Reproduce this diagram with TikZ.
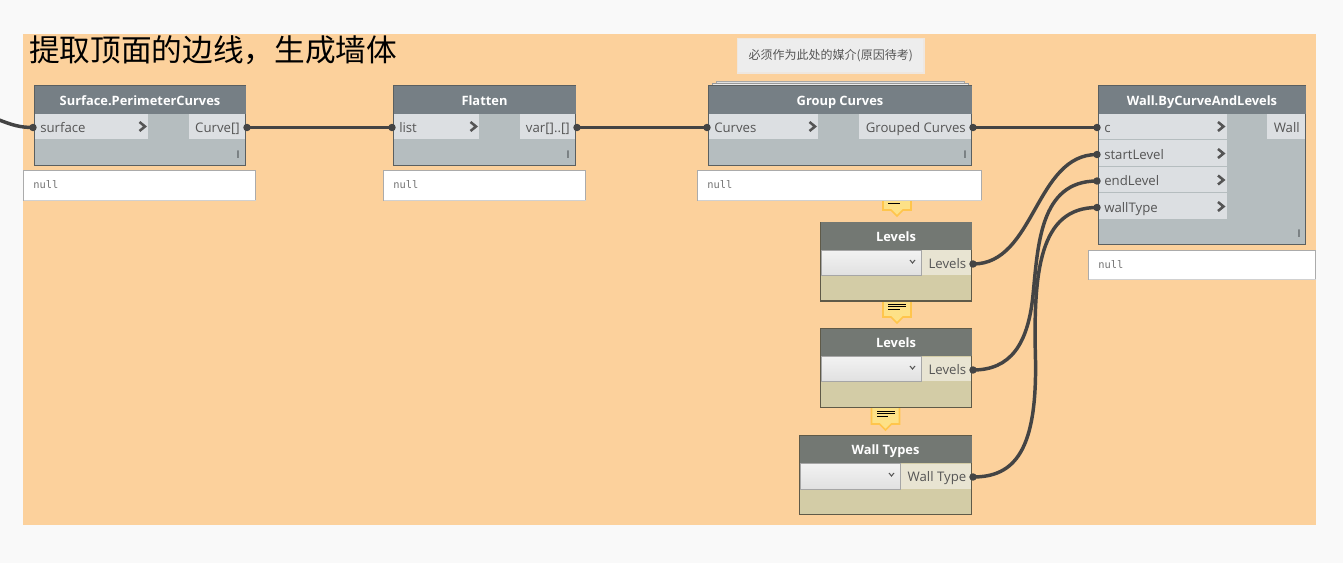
\documentclass[tikz,border=0pt]{standalone}
\usepackage{fontspec}
\setmainfont{Open Sans}
\newfontfamily\cjk{Noto Sans CJK SC}
\newfontfamily\monof{DejaVu Sans Mono}
\definecolor{pagec}{HTML}{F9F9F9}
\definecolor{bgo}{HTML}{FCD19C}
\definecolor{hblue}{HTML}{767F85}
\definecolor{hgreen}{HTML}{737873}
\definecolor{bodyb}{HTML}{B5BDBF}
\definecolor{bodyg}{HTML}{D3CCA6}
\definecolor{portb}{HTML}{DCDFE2}
\definecolor{portg}{HTML}{E8E4D2}
\definecolor{edgec}{HTML}{5A5F60}
\definecolor{edgeg}{HTML}{5F5A48}
\definecolor{wirec}{HTML}{444444}
\definecolor{txtc}{HTML}{555555}
\tikzset{
  x=0.75pt,y=-0.75pt,
  nodeb/.style={draw=edgec,line width=0.9pt,fill=bodyb},
  nodeg/.style={draw=edgeg,line width=0.9pt,fill=bodyg},
  headb/.style={fill=hblue},
  headg/.style={fill=hgreen},
  title/.style={text=white,font=\bfseries\fontsize{9.65pt}{11pt}\selectfont,inner sep=0pt,text height=7pt,text depth=2pt,yshift=-1.6pt},
  portbox/.style={fill=portb},
  portboxg/.style={fill=portg},
  plabel/.style={text=txtc,font=\fontsize{9.9pt}{11pt}\selectfont,inner sep=0pt,yshift=-0.8pt},
  nullbox/.style={fill=white,draw=black!33,line width=0.6pt},
  nulltxt/.style={text=black!55,font=\monof\fontsize{7.8pt}{9pt}\selectfont,inner sep=0pt},
  combo/.style={top color=black!5,bottom color=black!12,draw=black!35,line width=0.75pt},
  pin/.style={circle,fill=wirec,inner sep=0pt,minimum size=5.6pt},
  wire/.style={draw=wirec,line width=2.6pt},
  tick/.style={text=black!55!hblue,font=\fontsize{8pt}{9pt}\selectfont,inner sep=0pt},
  chev/.style={draw=txtc,line width=1.9pt,miter limit=10},
  bub/.style={fill=yellow!55!orange!45,draw=orange!65!yellow!70,line width=1.3pt},
  bubline/.style={draw=black,line width=0.7pt}
}
\newcommand\bx[7]{\pgfmathsetmacro\wbx{(#4-#2)*0.75}\pgfmathsetmacro\hbx{(#5-#3)*0.75}%
  \node[#6,inner sep=0pt,outer sep=0pt,minimum width=\wbx pt,minimum height=\hbx pt,anchor=north west] (#1) at (#2,#3) {#7};}
\newcommand\chv[2]{\draw[chev] (#1-3,#2-4.5) -- (#1+2.5,#2) -- (#1-3,#2+4.5);}
\newcommand\smallv[2]{\draw[draw=txtc,line width=0.8pt] (#1-2.5,#2-1.5) -- (#1,#2+1.5) -- (#1+2.5,#2-1.5);}
\newcommand\nullb[5]{\bx{#1}{#2}{#3}{#4}{#5}{nullbox}{}%
  \draw[draw=black!18,line width=1.2pt] (#1.south west) -- (#1.south east);
  \node[nulltxt,anchor=mid west] (#1t) at (#2+9.5,#3+14.5) {null};}
\newcommand\bubble[5]{% name, xl, xr, ytop, ybot
  \pgfmathsetmacro\cbx{(#2+#3)/2}%
  \draw[bub] (#2,#4) -- (#2,#5) -- (\cbx-6,#5) -- (\cbx,#5+6) -- (\cbx+6,#5) -- (#3,#5) -- (#3,#4);
  \coordinate (#1) at (\cbx,#4);}
\begin{document}
\begin{tikzpicture}
\useasboundingbox (0,0) rectangle (1343,563);
\fill[pagec] (0,0) rectangle (1343,563);
\fill[bgo] (23,34) rectangle (1316,525);
\node[anchor=west,inner sep=0pt,font=\cjk\fontsize{23pt}{26pt}\selectfont,text=black] (head) at (29,50.5) {提取顶面的边线，生成墙体};

% comment bubbles
\bubble{b1}{883}{911}{196}{210}
\draw[bubline] (888,203.5) -- (900,203.5);
\bubble{b2}{883}{911}{301}{317}
\draw[bubline] (888,304) -- (906,304) (888,306.8) -- (906,306.8) (888,309.6) -- (900,309.6);
\bubble{b3}{871.5}{899.5}{408}{424}
\draw[bubline] (877,411) -- (895,411) (877,413.8) -- (895,413.8) (877,416.6) -- (888,416.6);

% note and stacked copies of Group Curves
\bx{note}{737.5}{38.5}{924}{73}{fill=black!7,draw=orange!45!black!12,line width=0.8pt}{\cjk\fontsize{9pt}{11pt}\selectfont\textcolor{txtc}{必须作为此处的媒介(原因待考)}}
\draw[draw=black!35,fill=black!12,line width=0.6pt] (716,86) -- (716,81.5) -- (964,81.5) -- (964,86);
\draw[draw=black!40,fill=black!8,line width=0.6pt] (712.5,88) -- (712.5,83.5) -- (968,83.5) -- (968,88);

% Surface.PerimeterCurves
\bx{spc}{34.5}{86}{245.5}{165.5}{nodeb}{}
\bx{spch}{34.5}{86}{245.5}{114}{headb}{}
\node[title] (spct) at (spch) {Surface.PerimeterCurves};
\bx{spcin}{35}{114}{148}{139}{portbox}{}
\bx{spcout}{189}{114}{245}{139}{portbox}{}
\node[plabel,anchor=mid west] (spcinl) at (40,128) {surface};
\node[plabel,anchor=mid east] (spcoutl) at (240,128) {Curve[]};
\chv{142.5}{126.5}
\node[tick] (spci) at (238,155) {I};
\nullb{spcn}{23.5}{170.5}{255.5}{200.5}

% Flatten
\bx{fl}{393.5}{86}{575.5}{165.5}{nodeb}{}
\bx{flh}{393.5}{86}{575.5}{114}{headb}{}
\node[title] (flt) at (flh) {Flatten};
\bx{flin}{394}{114}{479}{139}{portbox}{}
\bx{flout}{520}{114}{575}{139}{portbox}{}
\node[plabel,anchor=mid west] (flinl) at (399,128) {list};
\node[plabel,anchor=mid east] (floutl) at (570,128) {var[]..[]};
\chv{473.5}{126.5}
\node[tick] (fli) at (568,155) {I};
\nullb{fln}{383.5}{170.5}{585.5}{200.5}

% Group Curves
\bx{gc}{708.5}{86}{971.5}{165.5}{nodeb}{}
\bx{gch}{708.5}{86}{971.5}{114}{headb}{}
\node[title] (gct) at (gch) {Group Curves};
\bx{gcin}{709}{114}{818}{139}{portbox}{}
\bx{gcout}{859}{114}{971}{139}{portbox}{}
\node[plabel,anchor=mid west] (gcinl) at (714,128) {Curves};
\node[plabel,anchor=mid east] (gcoutl) at (966,128) {Grouped Curves};
\chv{812.5}{126.5}
\node[tick] (gci) at (965,155) {I};
\nullb{gcn}{697.5}{170.5}{981.5}{200.5}

% Levels 1
\bx{la}{820.5}{222.5}{971.5}{301}{nodeg}{}
\bx{lah}{820.5}{222.5}{971.5}{250}{headg}{}
\node[title] (lat) at (lah) {Levels};
\bx{lac}{821}{250.5}{921.5}{275.5}{combo}{}
\bx{laout}{922}{250.5}{971}{275}{portboxg}{}
\node[plabel,anchor=mid east] (laoutl) at (966.5,263.5) {Levels};
\smallv{912.5}{261.5}

% Levels 2
\bx{lb}{820.5}{328.5}{971.5}{407.5}{nodeg}{}
\bx{lbh}{820.5}{328.5}{971.5}{356}{headg}{}
\node[title] (lbt) at (lbh) {Levels};
\bx{lbc}{821}{356.5}{921.5}{381.5}{combo}{}
\bx{lbout}{922}{356.5}{971}{381}{portboxg}{}
\node[plabel,anchor=mid east] (lboutl) at (966.5,369.5) {Levels};
\smallv{912.5}{367.5}

% Wall Types
\bx{wt}{799.5}{435.5}{971.5}{514.5}{nodeg}{}
\bx{wth}{799.5}{435.5}{971.5}{463}{headg}{}
\node[title] (wtt) at (wth) {Wall Types};
\bx{wtc}{800}{463.5}{900.5}{489}{combo}{}
\bx{wtout}{901}{463.5}{971}{489}{portboxg}{}
\node[plabel,anchor=mid east] (wtoutl) at (966.5,476.5) {Wall Type};
\smallv{891.5}{474.5}

% Wall.ByCurveAndLevels
\bx{wb}{1098.5}{86}{1305.5}{244.5}{nodeb}{}
\bx{wbh}{1098.5}{86}{1305.5}{114}{headb}{}
\node[title] (wbt) at (wbh) {Wall.ByCurveAndLevels};
\bx{wbc}{1099}{114}{1227}{139}{portbox}{}
\bx{wbs}{1099}{140}{1227}{166}{portbox}{}
\bx{wbe}{1099}{167}{1227}{192}{portbox}{}
\bx{wbw}{1099}{193}{1227}{219}{portbox}{}
\bx{wbout}{1267}{114}{1305}{139}{portbox}{}
\node[plabel,anchor=mid west] (wbcl) at (1104,128) {c};
\node[plabel,anchor=mid west] (wbsl) at (1104,155) {startLevel};
\node[plabel,anchor=mid west] (wbel) at (1104,181) {endLevel};
\node[plabel,anchor=mid west] (wbwl) at (1104,208) {wallType};
\node[plabel,anchor=mid east] (wboutl) at (1300,128) {Wall};
\chv{1221}{126.5}
\chv{1221}{153.5}
\chv{1221}{180}
\chv{1221}{206.5}
\node[tick] (wbi) at (1299,234) {I};
\nullb{wbn}{1088.5}{250.5}{1315.5}{279.5}

% pins
\node[pin] (p1) at (33,127.5) {};
\node[pin] (p2) at (247,127.5) {};
\node[pin] (p3) at (392,127.5) {};
\node[pin] (p4) at (577,127.5) {};
\node[pin] (p5) at (707,127.5) {};
\node[pin] (p6) at (973,127.5) {};
\node[pin] (p7) at (1097,127.5) {};
\node[pin] (p8) at (1097,154.5) {};
\node[pin] (p9) at (1097,181) {};
\node[pin] (p10) at (1097,207.5) {};
\node[pin] (p11) at (973,264) {};
\node[pin] (p12) at (973,370) {};
\node[pin] (p13) at (973,477) {};
\coordinate (offpage) at (-2,119.5);
\coordinate (midb) at (1033,295);
\coordinate (midc) at (1035.5,360);

% wires
\draw[wire] (offpage) .. controls (12,125) and (20,127.5) .. (p1.center);
\draw[wire] (p2.center) -- (p3.center);
\draw[wire] (p4.center) -- (p5.center);
\draw[wire] (p6.center) -- (p7.center);
\draw[wire] (p11.center) .. controls (1035,264) and (1035,154.5) .. (p8.center);
\draw[wire] (p12.center) .. controls (1010,370) and (1028,345) .. (midb) .. controls (1038,245) and (1040,181) .. (p9.center);
\draw[wire] (p13.center) .. controls (1015,477) and (1037,450) .. (midc) .. controls (1033,270) and (1040,207.5) .. (p10.center);
\end{tikzpicture}
\end{document}
